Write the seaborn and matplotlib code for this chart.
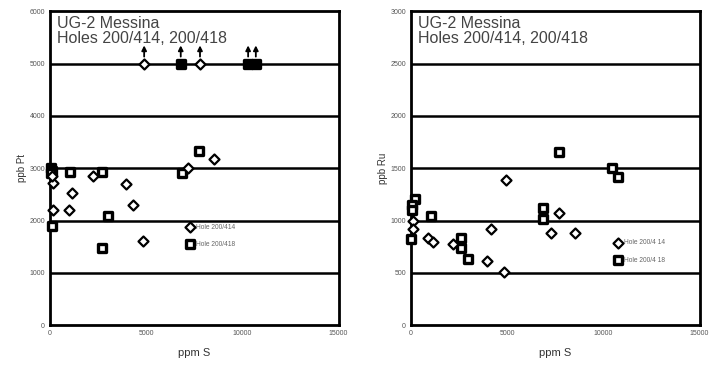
import pandas as pd
import seaborn as sns
import matplotlib.pyplot as plt

# datos (ppm S vs ppb)
pt_414_s = [160, 160, 990, 1140, 2230, 3940, 4300, 4820, 7170, 8520, 120]
pt_414_v = [2720, 2200, 2200, 2520, 2850, 2700, 2290, 1600, 3000, 3170, 2850]
pt_418_s = [50, 120, 60, 1040, 2700, 3010, 100, 2700, 6850, 7730]
pt_418_v = [3000, 2950, 2900, 2930, 2920, 2080, 1900, 1470, 2900, 3330]
# valores por encima del limite (flecha hacia arriba)
pt_414_gt_s = [4900, 7800]
pt_418_gt_s = [6800, 10300, 10700]
pt_limit = 5000

ru_414_s = [100, 100, 880, 1140, 2180, 3940, 4150, 4830, 4930, 7270, 7680, 8510]
ru_414_v = [1000, 917, 830, 790, 780, 610, 917, 510, 1385, 879, 1070, 879]
ru_418_s = [210, 60, 60, 1040, 0, 2600, 2600, 2960, 6850, 6850, 7680, 10430, 10740]
ru_418_v = [1210, 1146, 1100, 1040, 820, 830, 735, 630, 1117, 1012, 1652, 1500, 1414]

labels_pt = ['Hole 200/414', 'Hole 200/418']
labels_ru = ['Hole 200/4 14', 'Hole 200/4 18']

sns.set_style('white')
plt.rcParams['font.family'] = ['Liberation Sans', 'DejaVu Sans']

D_SIZE, D_LW = 26, 1.6
S_SIZE, S_LW = 38, 2.4


def make_df(s414, v414, s418, v418):
    return pd.DataFrame({
        'S': s414 + s418,
        'v': v414 + v418,
        'hole': ['414'] * len(s414) + ['418'] * len(s418),
    })


def style_axes(ax, ymax, ystep, ylabel):
    ax.set_xlim(0, 15000)
    ax.set_ylim(0, ymax)
    ax.set_xticks(range(0, 15001, 2500))
    ax.set_xticklabels(['0', '', '5000', '', '10000', '', '15000'])
    ax.set_yticks(range(0, ymax + 1, ystep))
    ax.tick_params(axis='both', labelsize=5, labelcolor='#555555', length=3,
                   width=1.2, direction='inout', pad=2)
    for y in range(ystep, ymax, ystep):
        ax.axhline(y, color='black', lw=1.8, zorder=1)
    for sp in ax.spines.values():
        sp.set_color('black')
        sp.set_linewidth(2)
        sp.set_visible(True)
    ax.set_xlabel('ppm S', fontsize=8, color='#333333', labelpad=8)
    ax.set_ylabel(ylabel, fontsize=7, color='#333333', labelpad=2)
    ax.text(0.025, 0.985, 'UG-2 Messina\nHoles 200/414, 200/418', transform=ax.transAxes,
            ha='left', va='top', fontsize=11.5, color='#444444', linespacing=1.0)


def legend_marks(ax, x, y, labels):
    ax.scatter([x], [y], marker='D', s=D_SIZE, facecolor='white', edgecolor='black',
               linewidth=D_LW, transform=ax.transAxes, zorder=5, clip_on=False)
    ax.scatter([x], [y - 0.055], marker='s', s=S_SIZE, facecolor='white', edgecolor='black',
               linewidth=S_LW, transform=ax.transAxes, zorder=5, clip_on=False)
    ax.text(x + 0.022, y, labels[0], transform=ax.transAxes, fontsize=4.8,
            color='#666666', va='center')
    ax.text(x + 0.022, y - 0.055, labels[1], transform=ax.transAxes, fontsize=4.8,
            color='#666666', va='center')


def draw(ax, df, gt414=None, gt418=None, limit=None):
    sns.scatterplot(data=df[df['hole'] == '414'], x='S', y='v', marker='D', s=D_SIZE,
                    facecolor='white', edgecolor='black', linewidth=D_LW, ax=ax,
                    zorder=4, clip_on=False)
    sns.scatterplot(data=df[df['hole'] == '418'], x='S', y='v', marker='s', s=S_SIZE,
                    facecolor='white', edgecolor='black', linewidth=S_LW, ax=ax,
                    zorder=3, clip_on=False)
    if gt414 is not None:
        sns.scatterplot(x=gt414, y=[limit] * len(gt414), marker='D', s=D_SIZE,
                        facecolor='white', edgecolor='black', linewidth=D_LW, ax=ax, zorder=4)
        sns.scatterplot(x=gt418, y=[limit] * len(gt418), marker='s', s=S_SIZE,
                        facecolor='black', edgecolor='black', linewidth=S_LW, ax=ax, zorder=3)
        for xs in gt414 + gt418:
            ax.annotate('', xy=(xs, limit + 400), xytext=(xs, limit + 80),
                        arrowprops=dict(arrowstyle='-|>', color='black', lw=1.3,
                                        mutation_scale=7), zorder=5)


fig = plt.figure(figsize=(7.22, 3.75), dpi=100)
ax1 = fig.add_axes([0.069, 0.133, 0.400, 0.837])
ax2 = fig.add_axes([0.569, 0.133, 0.400, 0.837])

draw(ax1, make_df(pt_414_s, pt_414_v, pt_418_s, pt_418_v), pt_414_gt_s, pt_418_gt_s, pt_limit)
style_axes(ax1, 6000, 1000, 'ppb Pt')
legend_marks(ax1, 0.484, 0.312, labels_pt)

draw(ax2, make_df(ru_414_s, ru_414_v, ru_418_s, ru_418_v))
style_axes(ax2, 3000, 500, 'ppb Ru')
legend_marks(ax2, 0.716, 0.262, labels_ru)

fig.savefig('out.png', dpi=100)
